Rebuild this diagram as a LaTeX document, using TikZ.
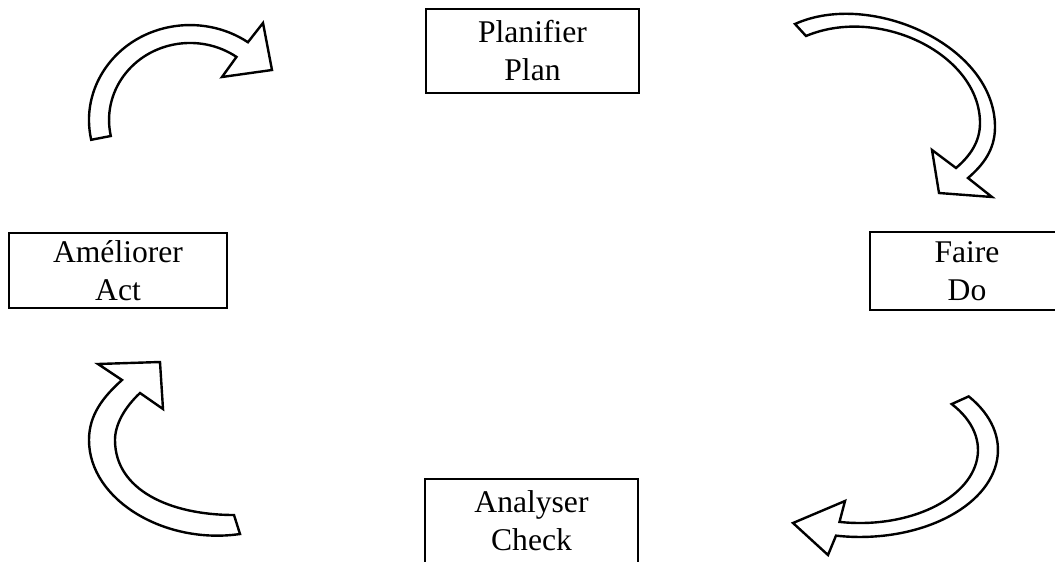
\documentclass[tikz,border=0pt]{standalone}
\usepackage{fontspec}
\setmainfont{Liberation Serif}

\tikzset{
    stage/.style={draw, line width=1.2pt, inner sep=0pt, align=center,
        font=\fontsize{15.8}{19}\selectfont},
    bentarrow/.style={draw, fill=white, line width=1.2pt, line join=miter},
}

\begin{document}
\begin{tikzpicture}[x=0.5pt, y=-0.5pt]
    \useasboundingbox (0,0) rectangle (1055,562);
    \fill[white] (0,0) rectangle (1055,562);
    \clip (0,0) rectangle (1055,562);

    % Stages
    \node[stage, minimum width=106.5pt, minimum height=42pt] (plan) at (532.5,51) {Planifier\\Plan};
    \node[stage, minimum width=97pt, minimum height=39pt] (do) at (967,271) {Faire\\Do};
    \node[stage, minimum width=106.5pt, minimum height=42pt] (check) at (531.5,521) {Analyser\\Check};
    \node[stage, minimum width=109pt, minimum height=37.5pt] (act) at (118,270.5) {Améliorer\\Act};

    % Act -> Plan
    \draw[bentarrow] (91.2,139.8) arc[start angle=168, end angle=305, x radius=101, y radius=95]
        -- (263,23) -- (272,70) -- (222,77)
        -- (236.5,56.9) arc[start angle=305, end angle=168, x radius=81, y radius=77] -- cycle;

    % Plan -> Do
    \draw[bentarrow] (795,24) .. controls (870,-10) and (995,45) .. (995,127)
        .. controls (995,150) and (983,165) .. (968,178)
        -- (992,197) -- (939,193) -- (932,150)
        -- (956,168) .. controls (970,156) and (980,142) .. (980,123)
        .. controls (980,55) and (880,5) .. (806,36) -- cycle;

    % Do -> Check
    \draw[bentarrow] (968.7,396.4) arc[start angle=-38, end angle=100, x radius=138, y radius=87]
        -- (828,555) -- (793,523) -- (845,501)
        -- (839.5,521.9) arc[start angle=100, end angle=-39, x radius=118, y radius=73] -- cycle;

    % Check -> Act
    \draw[bentarrow] (240,534) .. controls (165,545) and (89,500) .. (89,440)
        .. controls (89,415) and (103,397) .. (122,380)
        -- (98,364) -- (160,362) -- (163,409)
        -- (140,393) .. controls (124,408) and (115,425) .. (115,440)
        .. controls (115,490) and (170,515) .. (234,515) -- cycle;
\end{tikzpicture}
\end{document}
